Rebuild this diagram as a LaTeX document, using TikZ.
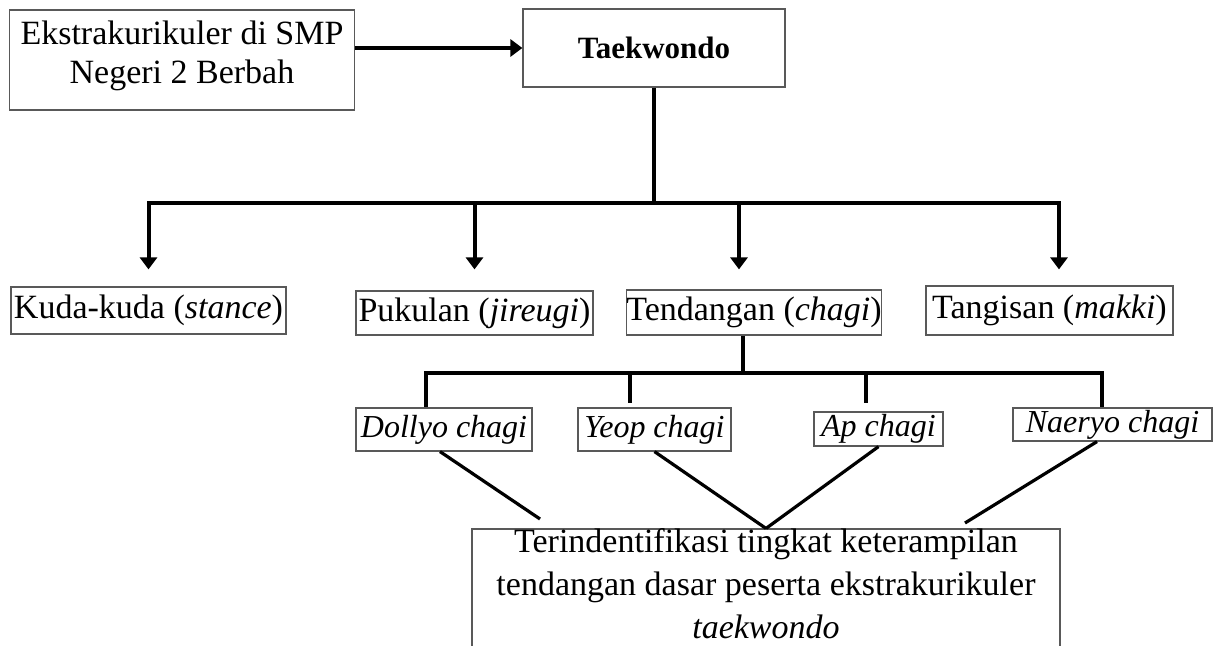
\documentclass[tikz,border=0pt]{standalone}
\usepackage{fontspec}
\setmainfont{Liberation Serif}
\usetikzlibrary{arrows.meta}
\tikzset{
  box/.style={draw=black!65, line width=0.6pt, inner sep=0pt, align=center, font=\fontsize{17}{19.5}\selectfont},
  kick/.style={box, font=\fontsize{16}{19}\selectfont\itshape},
  conn/.style={line width=2pt},
  arr/.style={line width=2pt, -{Triangle[length=6pt,width=8.5pt]}},
  diag/.style={line width=1.6pt},
}

\begin{document}
\begin{tikzpicture}[x=0.5pt,y=-0.5pt]
\useasboundingbox (0,0) rectangle (1222,646);
\clip (0,0) rectangle (1222,646);
 \draw (182,60) node[box,minimum width=172.5pt,minimum height=50pt,text depth=8pt] (ekstra) {Ekstrakurikuler di SMP\\Negeri 2 Berbah};
 \draw (654,48) node[box,minimum width=131pt,minimum height=39pt,font=\fontsize{15.5}{18}\selectfont\bfseries] (taek) {Taekwondo};
   \draw (148.5,310.5) node[box,minimum width=137.5pt,minimum height=23.5pt] (kuda) {Kuda-kuda (\textit{stance})};
   \draw (474.5,313) node[box,minimum width=118.5pt,minimum height=22pt] (pukul) {Pukulan (\textit{jireugi})};
   \draw (754,312.5) node[box,minimum width=125pt,minimum height=22.5pt] (tendang) {Tendangan (\textit{chagi})};
   \draw (1049.5,310.5) node[box,minimum width=123.5pt,minimum height=24.5pt] (tangis) {Tangisan (\textit{makki})};
     \draw (444,429.5) node[kick,minimum width=88pt,minimum height=21.5pt] (dollyo) {Dollyo chagi};
     \draw (654.5,429.5) node[kick,minimum width=76.5pt,minimum height=21.5pt] (yeop) {Yeop chagi};
     \draw (878.5,429) node[kick,minimum width=64.5pt,minimum height=17pt] (ap) {Ap chagi};
     \draw (1112.5,424.5) node[kick,minimum width=99.5pt,minimum height=16.5pt] (naeryo) {Naeryo chagi};
       \draw (766,593) node[box,minimum width=294pt,minimum height=60pt,text depth=9pt,font=\fontsize{17}{21.5}\selectfont] (hasil) {Terindentifikasi tingkat keterampilan\\tendangan dasar peserta ekstrakurikuler\\\textit{taekwondo}};

 \coordinate (hub) at (654,203);
 \coordinate (hub2) at (743,373);
 \coordinate (dend) at (540,519);
 \coordinate (nend) at (965,523);

 \draw[arr] (ekstra.east |- taek.west) -- (taek.west);
 \draw[conn] (taek.south) -- (hub);
 \draw[arr,shorten >=8.5pt] (hub) -| (kuda.north);
 \draw[arr,shorten >=10.5pt] (hub) -| (pukul.north);
 \draw[arr,shorten >=10pt] (hub) -| ([xshift=-7.5pt]tendang.north);
 \draw[arr,shorten >=8pt] (hub) -| ([xshift=4.75pt]tangis.north);

 \draw[conn] (hub2 |- tendang.south) -- (hub2);
 \draw[conn] (hub2) -| ([xshift=-9pt]dollyo.north);
 \draw[conn,shorten >=2pt] (hub2) -| ([xshift=-12.25pt]yeop.north);
 \draw[conn,shorten >=4pt] (hub2) -| ([xshift=-6.25pt]ap.north);
 \draw[conn] (hub2) -| ([xshift=-5.25pt]naeryo.north);

 \draw[diag] ([xshift=-2pt]dollyo.south) -- (dend);
 \draw[diag] (yeop.south) -- (hasil.north);
 \draw[diag] (ap.south) -- (hasil.north);
 \draw[diag] ([xshift=-7.75pt]naeryo.south) -- (nend);
\end{tikzpicture}
\end{document}
